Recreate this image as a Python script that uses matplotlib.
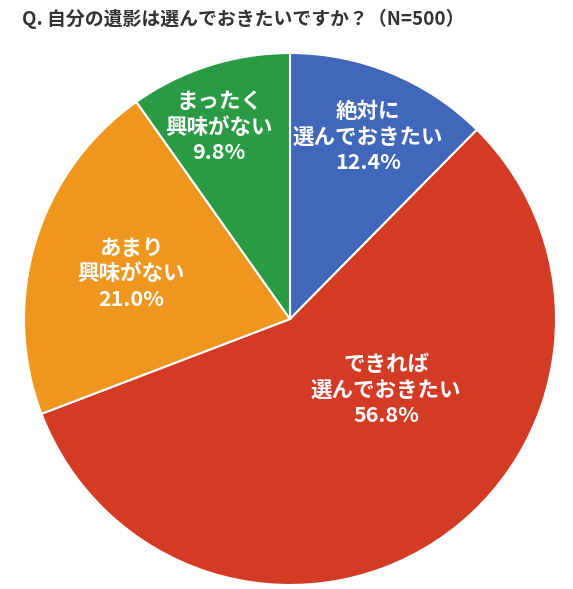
import numpy as np
import matplotlib
matplotlib.use("Agg")
from matplotlib import pyplot as plt

plt.rcParams['font.family'] = ['Noto Sans CJK JP', 'DejaVu Sans']

# data
labels = ['絶対に\n選んでおきたい', 'できれば\n選んでおきたい', 'あまり\n興味がない', 'まったく\n興味がない']
values = [12.4, 56.8, 21.0, 9.8]
colors = ['#4167BA', '#D43B25', '#EF961F', '#2A9A45']
title = 'Q. 自分の遺影は選んでおきたいですか？（N=500）'

# label centers in pixels of the reference image (pie center 290,319 r=266)
label_px = [(368, 137), (386, 390), (131, 274), (219, 127)]

W, H = 573, 589
fig = plt.figure(figsize=(W / 100, H / 100), dpi=100)
cx, cy, r = 290, 319, 266
ax = fig.add_axes([(cx - r) / W, (H - cy - r) / H, 2 * r / W, 2 * r / H])

ax.pie(values, colors=colors, startangle=90, counterclock=False, radius=1,
       wedgeprops=dict(edgecolor='white', linewidth=1.5))
ax.set_xlim(-1, 1)
ax.set_ylim(-1, 1)
ax.set_aspect('equal')
ax.axis('off')

for lab, v, (px, py) in zip(labels, values, label_px):
    x = (px - cx) / r
    y = (cy - py) / r
    ax.text(x, y, lab + '\n' + '{:.1f}%'.format(v), ha='center', va='center',
            color='white', fontsize=15.5, fontweight='bold', linespacing=1.25)

fig.text(22 / W, 1 - 19 / H, title, ha='left', va='center', fontsize=13.6,
         fontweight='bold', color='#333333')

fig.savefig('out.png', dpi=100)
